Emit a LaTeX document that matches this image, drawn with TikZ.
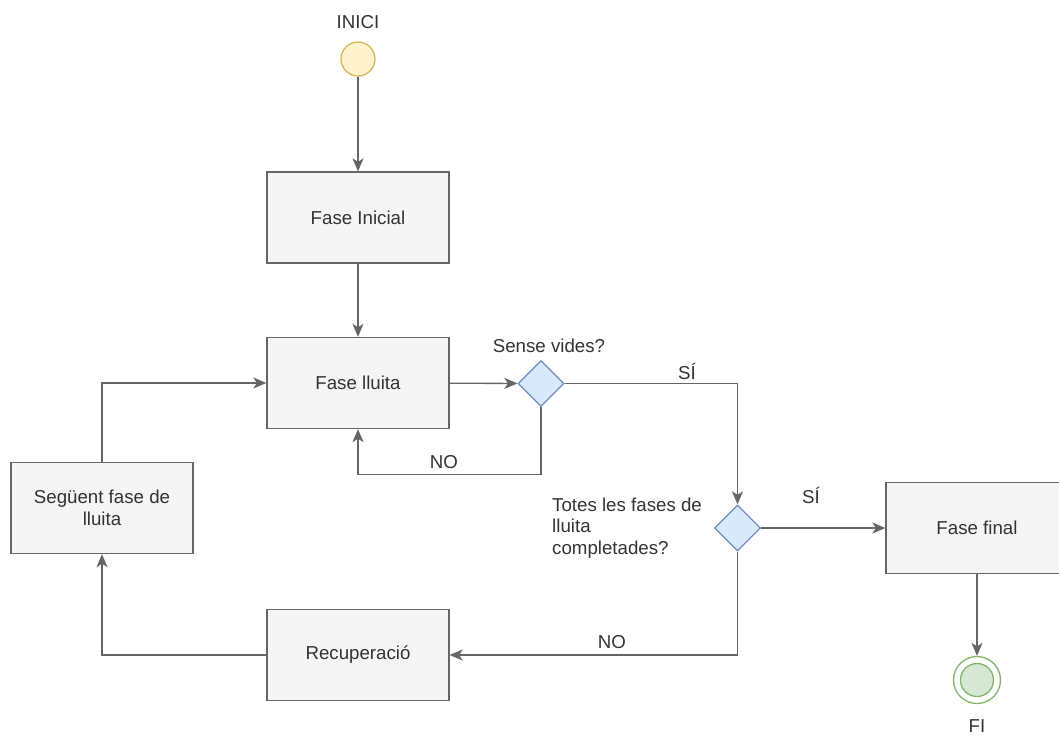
\documentclass[tikz,border=0pt]{standalone}
\usepackage{fontspec}
\setmainfont{Liberation Sans}
\usetikzlibrary{shapes.geometric,arrows.meta}

\definecolor{boxfill}{HTML}{F5F5F5}
\definecolor{boxline}{HTML}{666666}
\definecolor{decfill}{HTML}{DAE8FC}
\definecolor{decline}{HTML}{6C8EBF}
\definecolor{startfill}{HTML}{FFF2CC}
\definecolor{startline}{HTML}{D6B656}
\definecolor{endfill}{HTML}{D5E8D4}
\definecolor{endline}{HTML}{82B366}
\definecolor{ink}{HTML}{333333}

\tikzset{
  stepbox/.style={draw=boxline, fill=boxfill, line width=1.3pt,
    minimum width=182pt, minimum height=91pt, inner sep=0pt, align=center},
  decision/.style={diamond, draw=decline, fill=decfill, line width=1.3pt,
    minimum width=46pt, minimum height=46pt, inner sep=0pt},
  startnode/.style={circle, draw=startline, fill=startfill, line width=1.3pt,
    minimum size=34pt, inner sep=0pt},
  endring/.style={circle, draw=endline, fill=white, line width=1.3pt,
    minimum size=47pt, inner sep=0pt},
  endcore/.style={circle, draw=endline, fill=endfill, line width=1.3pt,
    minimum size=33pt, inner sep=0pt},
  flow/.style={draw=boxline, line width=1.3pt,
    -{Stealth[length=13pt, width=11pt, inset=3.5pt]}},
  lbl/.style={inner sep=0pt, text=ink}
}

\begin{document}
\begin{tikzpicture}[x=1pt, y=-1pt, font=\fontsize{18.7}{21.5}\selectfont, text=ink]
  \useasboundingbox (0,0) rectangle (1059,736);
  \clip (0,0) rectangle (1059,736);

  % process steps
  \node[stepbox] (init)  at (358,217.5) {Fase Inicial};
  \node[stepbox] (fight) at (358,383)   {Fase lluita};
  \node[stepbox] (next)  at (102,508)   {Següent fase de\\lluita};
  \node[stepbox] (rec)   at (358,655)   {Recuperació};
  \node[stepbox] (final) at (977,528)   {Fase final};

  % decisions
  \node[decision] (d1) at (541,383.5) {};
  \node[decision] (d2) at (737.5,528) {};

  % start and end events
  \node[startnode] (start) at (358,59) {};
  \node[endring] (end) at (977,680) {};
  \node[endcore] (endin) at (end.center) {};

  % captions
  \node[lbl] (tinici) at (358,22.5) {INICI};
  \node[lbl] (tfi) at (977,726) {FI};
  \node[lbl] (q1) at (549,346) {Sense vides?};
  \node[lbl, anchor=west, align=left] (q2) at (552,528)
    {Totes les fases de\\lluita\\completades?};
  \node[lbl] (yes1) at (687,371) {SÍ};
  \node[lbl] (yes2) at (811,495) {SÍ};
  \node[lbl] (no1)  at (444,462) {NO};
  \node[lbl] (no2)  at (612,642) {NO};

  % connectors
  \draw[flow] (start) -- (init);
  \draw[flow] (init) -- (fight);
  \draw[flow] (fight) -- (d1);
  \draw[flow] (d1.east) -| (d2.north);
  \draw[flow] (d2) -- (final);
  \draw[flow] (final) -- (end);
  \draw[flow] (d1.south) -- ++(0,67) -| (fight.south);
  \draw[flow] (d2.south) |- (rec.east);
  \draw[flow] (rec.west) -| (next.south);
  \draw[flow] (next.north) |- (fight.west);
\end{tikzpicture}
\end{document}
